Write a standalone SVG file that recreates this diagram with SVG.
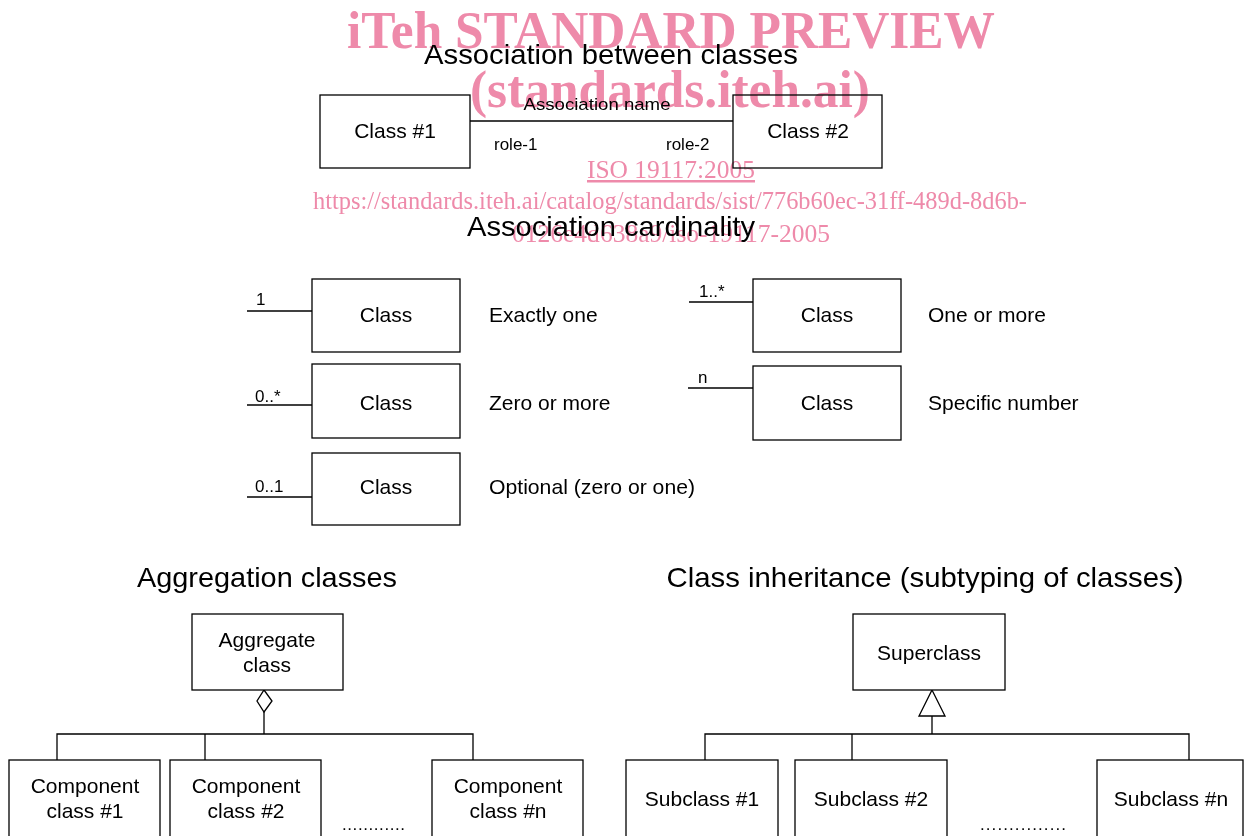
<svg xmlns="http://www.w3.org/2000/svg" width="1244" height="836" viewBox="0 0 1244 836">
<style>
  .box { fill: #fff; stroke: #000; stroke-width: 1.3; }
  .ln { fill: none; stroke: #000; stroke-width: 1.3; }
  .t { font-family: "Liberation Sans", Arial, sans-serif; fill: #000; }
  .title { font-size: 28px; text-anchor: middle; }
  .lbl { font-size: 21px; text-anchor: middle; }
  .desc { font-size: 21px; }
  .sm { font-size: 17px; }
  .wm { font-family: "Liberation Serif", "Times New Roman", serif; fill: #ee8aaa; }
  .wmb { font-weight: bold; font-size: 53px; }
  .wmn { font-size: 25px; }
  #watermark { mix-blend-mode: multiply; }
</style>
<rect width="1244" height="836" fill="#fff"/>

<g id="titles">
  <text class="t title" x="611" y="64" textLength="374" lengthAdjust="spacingAndGlyphs">Association between classes</text>
  <text class="t title" x="611" y="236" textLength="288" lengthAdjust="spacingAndGlyphs">Association cardinality</text>
  <text class="t title" x="267" y="587" textLength="260" lengthAdjust="spacingAndGlyphs">Aggregation classes</text>
  <text class="t title" x="925" y="587" textLength="517" lengthAdjust="spacingAndGlyphs">Class inheritance (subtyping of classes)</text>
</g>

<g id="connectors">
  <line class="ln" x1="470" y1="121" x2="733" y2="121"/>
  <line class="ln" x1="247" y1="311" x2="312" y2="311"/>
  <line class="ln" x1="247" y1="405" x2="312" y2="405"/>
  <line class="ln" x1="247" y1="497" x2="312" y2="497"/>
  <line class="ln" x1="689" y1="302" x2="753" y2="302"/>
  <line class="ln" x1="688" y1="388" x2="753" y2="388"/>
  <polyline class="ln" points="264,712 264,734"/>
  <polyline class="ln" points="57,760 57,734 473,734 473,760"/>
  <line class="ln" x1="205" y1="734" x2="205" y2="760"/>
  <polygon class="box" points="264,690 272,701 264,712 257,701"/>
  <polyline class="ln" points="932,716 932,734"/>
  <polyline class="ln" points="705,760 705,734 1189,734 1189,760"/>
  <line class="ln" x1="852" y1="734" x2="852" y2="760"/>
  <polygon class="box" points="932,690 945,716 919,716"/>
</g>

<g id="assoc-labels">
  <text class="t sm" x="597" y="110" text-anchor="middle" textLength="147" lengthAdjust="spacingAndGlyphs">Association name</text>
  <text class="t sm" x="494" y="150">role-1</text>
  <text class="t sm" x="666" y="150">role-2</text>
  <text class="t sm" x="256" y="305">1</text>
  <text class="t sm" x="255" y="402">0..*</text>
  <text class="t sm" x="255" y="492">0..1</text>
  <text class="t sm" x="699" y="297">1..*</text>
  <text class="t sm" x="698" y="383">n</text>
</g>

<g id="class1">
  <rect class="box" x="320" y="95" width="150" height="73"/>
  <text class="t lbl" x="395" y="138">Class #1</text>
</g>
<g id="class2">
  <rect class="box" x="733" y="95" width="149" height="73"/>
  <text class="t lbl" x="808" y="138">Class #2</text>
</g>

<g id="card-one">
  <rect class="box" x="312" y="279" width="148" height="73"/>
  <text class="t lbl" x="386" y="322">Class</text>
  <text class="t desc" x="489" y="322">Exactly one</text>
</g>
<g id="card-zero-more">
  <rect class="box" x="312" y="364" width="148" height="74"/>
  <text class="t lbl" x="386" y="410">Class</text>
  <text class="t desc" x="489" y="410">Zero or more</text>
</g>
<g id="card-optional">
  <rect class="box" x="312" y="453" width="148" height="72"/>
  <text class="t lbl" x="386" y="494">Class</text>
  <text class="t desc" x="489" y="494" textLength="206" lengthAdjust="spacingAndGlyphs">Optional (zero or one)</text>
</g>
<g id="card-one-more">
  <rect class="box" x="753" y="279" width="148" height="73"/>
  <text class="t lbl" x="827" y="322">Class</text>
  <text class="t desc" x="928" y="322">One or more</text>
</g>
<g id="card-specific">
  <rect class="box" x="753" y="366" width="148" height="74"/>
  <text class="t lbl" x="827" y="410">Class</text>
  <text class="t desc" x="928" y="410">Specific number</text>
</g>

<g id="aggregate">
  <rect class="box" x="192" y="614" width="151" height="76"/>
  <text class="t lbl" x="267" y="647">Aggregate</text>
  <text class="t lbl" x="267" y="672">class</text>
</g>
<g id="component1">
  <rect class="box" x="9" y="760" width="151" height="80"/>
  <text class="t lbl" x="85" y="793">Component</text>
  <text class="t lbl" x="85" y="818">class #1</text>
</g>
<g id="component2">
  <rect class="box" x="170" y="760" width="151" height="80"/>
  <text class="t lbl" x="246" y="793">Component</text>
  <text class="t lbl" x="246" y="818">class #2</text>
</g>
<g id="componentn">
  <rect class="box" x="432" y="760" width="151" height="80"/>
  <text class="t lbl" x="508" y="793">Component</text>
  <text class="t lbl" x="508" y="818">class #n</text>
</g>
<text class="t sm" x="342" y="830" textLength="63" lengthAdjust="spacing">............</text>

<g id="superclass">
  <rect class="box" x="853" y="614" width="152" height="76"/>
  <text class="t lbl" x="929" y="660">Superclass</text>
</g>
<g id="subclass1">
  <rect class="box" x="626" y="760" width="152" height="80"/>
  <text class="t lbl" x="702" y="806">Subclass #1</text>
</g>
<g id="subclass2">
  <rect class="box" x="795" y="760" width="152" height="80"/>
  <text class="t lbl" x="871" y="806">Subclass #2</text>
</g>
<g id="subclassn">
  <rect class="box" x="1097" y="760" width="146" height="80"/>
  <text class="t lbl" x="1171" y="806">Subclass #n</text>
</g>
<text class="t sm" x="980" y="830" textLength="86" lengthAdjust="spacing">...............</text>

<g id="watermark">
  <text class="wm wmb" x="347" y="48" textLength="648" lengthAdjust="spacingAndGlyphs">iTeh STANDARD PREVIEW</text>
  <text class="wm wmb" x="470" y="107" textLength="400" lengthAdjust="spacingAndGlyphs">(standards.iteh.ai)</text>
  <text class="wm wmn" x="587" y="178" textLength="168" lengthAdjust="spacingAndGlyphs" text-decoration="underline">ISO 19117:2005</text>
  <text class="wm wmn" x="313" y="209" textLength="714" lengthAdjust="spacingAndGlyphs">https://standards.iteh.ai/catalog/standards/sist/776b60ec-31ff-489d-8d6b-</text>
  <text class="wm wmn" x="512" y="242" textLength="318" lengthAdjust="spacingAndGlyphs">0126e4d638a9/iso-19117-2005</text>
</g>
</svg>
